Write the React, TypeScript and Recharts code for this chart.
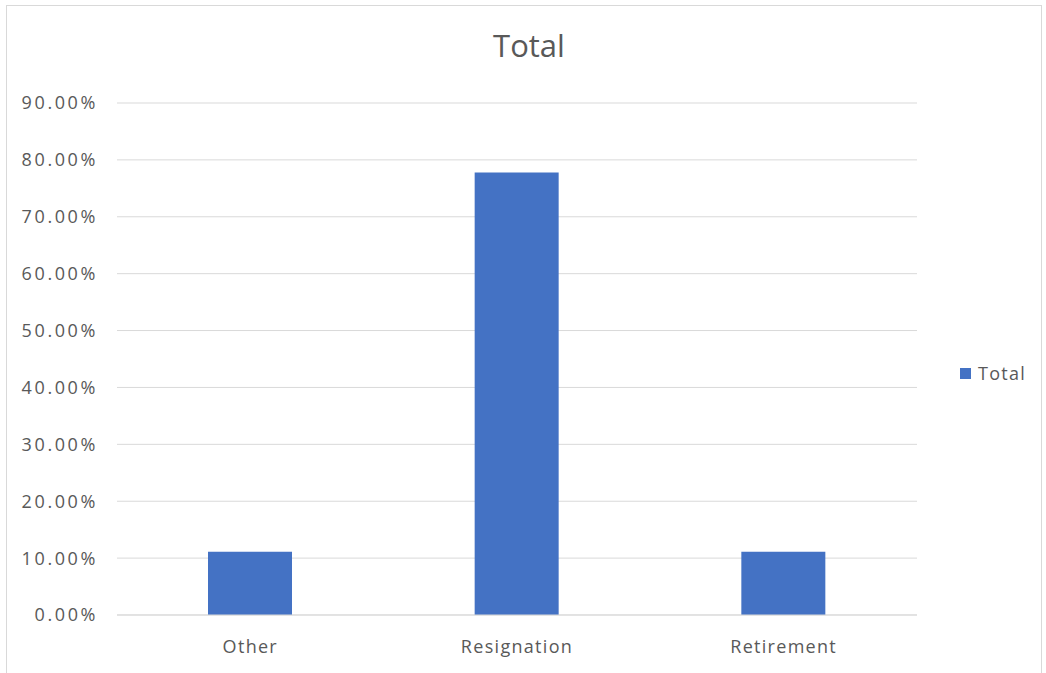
import { BarChart, Bar, XAxis, YAxis, CartesianGrid } from 'recharts';

// Separation reasons, share of total
const categories = ['Other', 'Resignation', 'Retirement'];
const totals = [0.1111, 0.7778, 0.1111];
const yTicks = [0, 0.1, 0.2, 0.3, 0.4, 0.5, 0.6, 0.7, 0.8, 0.9];
const seriesName = 'Total';

const data = categories.map((name, i) => ({ name, Total: totals[i] }));

const fontFamily = '"Open Sans", "Noto Sans", sans-serif';
const textColor = '#595959';
const barColor = '#4472C4';
const xTickStyle = { fill: textColor, fontSize: 18, fontFamily, letterSpacing: 1.3 };
const yTickStyle = { fill: textColor, fontSize: 18, fontFamily, letterSpacing: 2.6 };

export default function App() {
  return (
    <div style={{ position: 'absolute', left: 0, top: 0, width: 1046, height: 673, background: '#fff', overflow: 'hidden', fontFamily }}>
      {/* chart frame */}
      <div style={{ position: 'absolute', left: 6, top: 5, width: 1036, height: 700, border: '1px solid #d9d9d9', boxSizing: 'border-box' }} />
      <div style={{ position: 'absolute', left: 0, top: 24, width: 1058, textAlign: 'center', fontSize: 31, color: textColor }}>
        Total
      </div>
      <BarChart
        width={1046}
        height={673}
        data={data}
        margin={{ top: 103, right: 129, left: 0, bottom: 28 }}
        style={{ position: 'absolute', left: 0, top: 0 }}
      >
        <CartesianGrid vertical={false} stroke="#d9d9d9" />
        <XAxis
          dataKey="name"
          height={30}
          axisLine={{ stroke: '#d9d9d9' }}
          tickLine={false}
          tickMargin={19}
          tick={xTickStyle}
        />
        <YAxis
          width={117}
          domain={[0, 0.9]}
          ticks={yTicks}
          axisLine={false}
          tickLine={false}
          tickSize={0}
          tickMargin={19}
          tickFormatter={(v: number) => (v * 100).toFixed(2) + '%'}
          tick={yTickStyle}
        />
        <Bar dataKey="Total" name={seriesName} fill={barColor} barSize={84} isAnimationActive={false} />
      </BarChart>
      {/* legend */}
      <div style={{ position: 'absolute', left: 960, top: 361, display: 'flex', alignItems: 'center', fontSize: 18, letterSpacing: 1.3, color: textColor }}>
        <span style={{ display: 'inline-block', width: 11, height: 11, background: barColor, marginRight: 7 }} />
        <span>{seriesName}</span>
      </div>
    </div>
  );
}
